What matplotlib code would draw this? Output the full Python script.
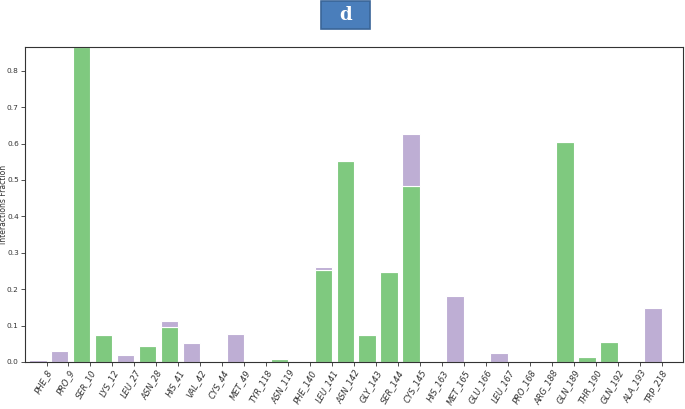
import matplotlib
matplotlib.use("Agg")
import matplotlib.pyplot as plt
from matplotlib.patches import Rectangle
import numpy as np

residues = ["PHE_8", "PRO_9", "SER_10", "LYS_12", "LEU_27", "ASN_28", "HIS_41", "VAL_42",
            "CYS_44", "MET_49", "TYR_118", "ASN_119", "PHE_140", "LEU_141", "ASN_142",
            "GLY_143", "SER_144", "CYS_145", "HIS_163", "MET_165", "GLU_166", "LEU_167",
            "PRO_168", "ARG_188", "GLN_189", "THR_190", "GLN_192", "ALA_193", "TRP_218"]
green_vals = [0.0, 0.0, 0.865, 0.073, 0.0, 0.043, 0.096, 0.0,
              0.0, 0.0, 0.0, 0.008, 0.003, 0.252, 0.551,
              0.073, 0.247, 0.483, 0.0, 0.0, 0.003, 0.0,
              0.0, 0.0, 0.605, 0.015, 0.056, 0.0, 0.0]
purple_vals = [0.006, 0.030, 0.0, 0.0, 0.018, 0.0, 0.016, 0.051,
               0.0, 0.077, 0.0, 0.0, 0.0, 0.008, 0.0,
               0.0, 0.0, 0.143, 0.0, 0.182, 0.0, 0.025,
               0.0, 0.0, 0.0, 0.0, 0.0, 0.0, 0.149]

fig = plt.figure(figsize=(6.85, 4.09), dpi=100)
ax = fig.add_axes([0.0365, 0.115, 0.9605, 0.77])

x = np.arange(len(residues))
g = np.array(green_vals)
p = np.array(purple_vals)
ax.bar(x, g, width=-0.8, align="edge", color="#7fc97f", edgecolor="white", linewidth=0.8)
ax.bar(x, p, width=-0.8, align="edge", bottom=g, color="#beaed4", edgecolor="white", linewidth=0.8)

ax.set_xticks(x)
ax.set_xticklabels(residues, rotation=60, ha="right", fontsize=6, color="#333333",
                   fontstyle="italic", rotation_mode="anchor")
ax.set_xlim(-0.98, 28.97)
ax.set_ylim(0, 0.865)
yt = np.arange(0, 0.81, 0.1)
ax.set_yticks(yt)
ax.set_yticklabels([f"{v:.1f}" for v in yt], fontsize=5.3, color="#333333")
ax.tick_params(axis="both", length=3, width=0.6, color="#333333", pad=1.5)
for s in ax.spines.values():
    s.set_linewidth(0.8)
    s.set_color("#333333")

fig.text(4 / 685, 0.5, "Interactions Fraction", rotation=90, ha="center", va="center",
         fontsize=5.5, color="#333333")

fig.patches.append(Rectangle((321 / 685, 1 - 29 / 409), 49 / 685, 28 / 409,
                             transform=fig.transFigure, facecolor="#4a7ebb",
                             edgecolor="#3a6598", linewidth=1.2))
fig.text(345.5 / 685, 1 - 15 / 409, "d", ha="center", va="center", fontsize=13,
         fontweight="bold", family="DejaVu Serif", color="white")

fig.savefig("out.png", dpi=100)
